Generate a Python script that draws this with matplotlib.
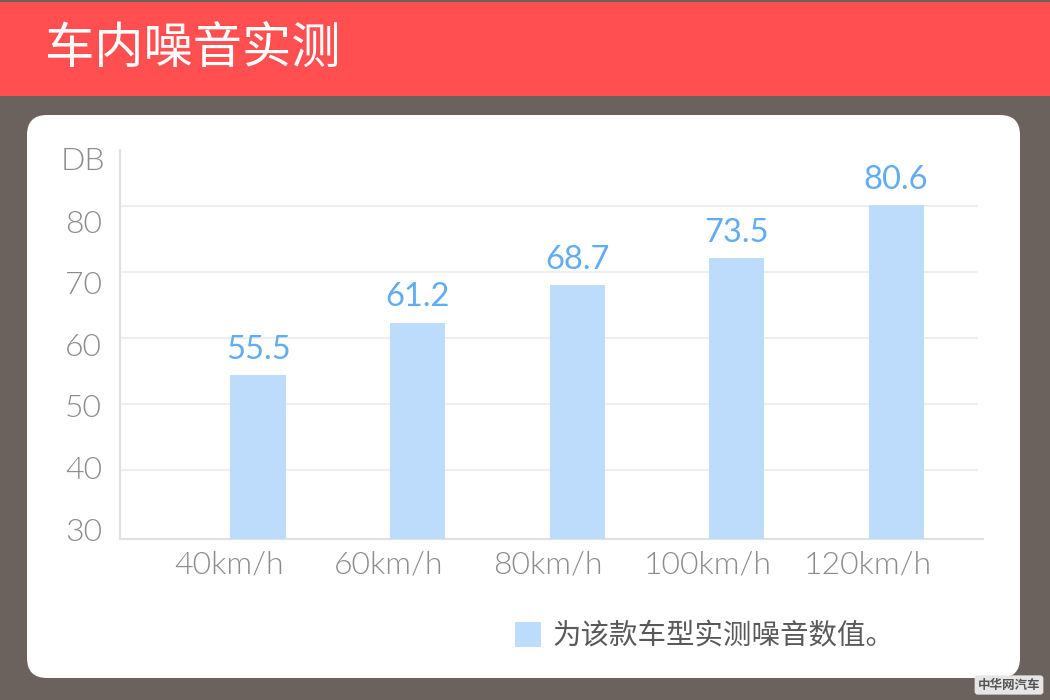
import matplotlib.pyplot as plt
import numpy as np
from matplotlib.patches import Rectangle, FancyBboxPatch
from matplotlib.transforms import IdentityTransform

speeds = ['40km/h', '60km/h', '80km/h', '100km/h', '120km/h']
bar_heights = [54.4, 62.3, 68.0, 72.1, 80.1]  # bar tops as drawn in the picture
value_labels = ['55.5', '61.2', '68.7', '73.5', '80.6']
y_ticks = [30, 40, 50, 60, 70, 80]
title = '车内噪音实测'
legend_text = '为该款车型实测噪音数值。'

W, H = 1050, 700
LATIN = ['Lato', 'Noto Sans CJK SC', 'DejaVu Sans']
CJK = ['Noto Sans CJK SC', 'DejaVu Sans']
LW = 350  # Lato Light

fig = plt.figure(figsize=(W / 100, H / 100), dpi=100)
fig.patch.set_facecolor('#6b625d')

# red header band
fig.patches.append(Rectangle((0, H - 96), W, 94, transform=IdentityTransform(),
                             facecolor='#ff4f50', edgecolor='none', zorder=-2))
fig.text(45 / W, 1 - 50 / H, title, color='white', fontsize=35.5, family=CJK,
         va='center', ha='left')

# white rounded panel
fig.patches.append(FancyBboxPatch((27, H - 678), 993, 563,
                                  boxstyle='round,pad=0,rounding_size=20',
                                  transform=IdentityTransform(),
                                  facecolor='white', edgecolor='none', zorder=-2))

ax = fig.add_axes([120 / W, 1 - 539 / H, 863 / W, 389 / H])
ax.set_facecolor('none')

x = np.arange(len(speeds))
bars = ax.bar(x, bar_heights, width=0.345, color='#bddbfb', zorder=3,
              label=legend_text)
ax.bar_label(bars, labels=value_labels, padding=7.5, color='#62acf0',
             fontsize=23.5, family=LATIN)

ax.set_xlim(-0.865, 4.545)
ax.set_ylim(29.55, 88.5)
for v in y_ticks[1:]:
    ax.axhline(v, xmin=0, xmax=0.993, color='#ebebeb', lw=1.2, zorder=1)

# the source's axis labels sit on a slightly compressed scale vs the gridlines
label_pos = [31.06 + (v - 30) * 0.933 for v in y_ticks]
ax.set_yticks(label_pos)
ax.set_yticklabels([str(v) for v in y_ticks], color='#8c8c8c', fontsize=23,
                   family=LATIN, fontweight=LW)
ax.set_xticks(x - 0.18)
ax.set_xticklabels(speeds, color='#8c8c8c', fontsize=23, family=LATIN,
                   fontweight=LW)
ax.tick_params(axis='y', length=0, pad=13)
ax.tick_params(axis='x', length=0, pad=8)

for s in ['top', 'right']:
    ax.spines[s].set_visible(False)
for s in ['left', 'bottom']:
    ax.spines[s].set_color('#e0e0e0')
    ax.spines[s].set_linewidth(1.5)

ax.text(-0.017, 1 - 11 / 389, 'DB', transform=ax.transAxes, ha='right',
        va='center', color='#8c8c8c', fontsize=23, family=LATIN,
        fontweight=LW)

fig.legend(loc='center left', bbox_to_anchor=(515 / W, 1 - 636 / H),
           frameon=False, borderpad=0, borderaxespad=0, handlelength=0.9,
           handleheight=1.0, handletextpad=0.4,
           prop={'family': CJK, 'size': 20.5}, labelcolor='#595959')

# watermark
fig.text(1009 / W, 1 - 685 / H, '中华网汽车', color='#555555', fontsize=9,
         family=CJK, weight='bold', ha='center', va='center',
         bbox=dict(boxstyle='round,pad=0.25', facecolor='#e6e6e6',
                   edgecolor='none'))

fig.savefig('out.png', dpi=100, facecolor=fig.get_facecolor())
